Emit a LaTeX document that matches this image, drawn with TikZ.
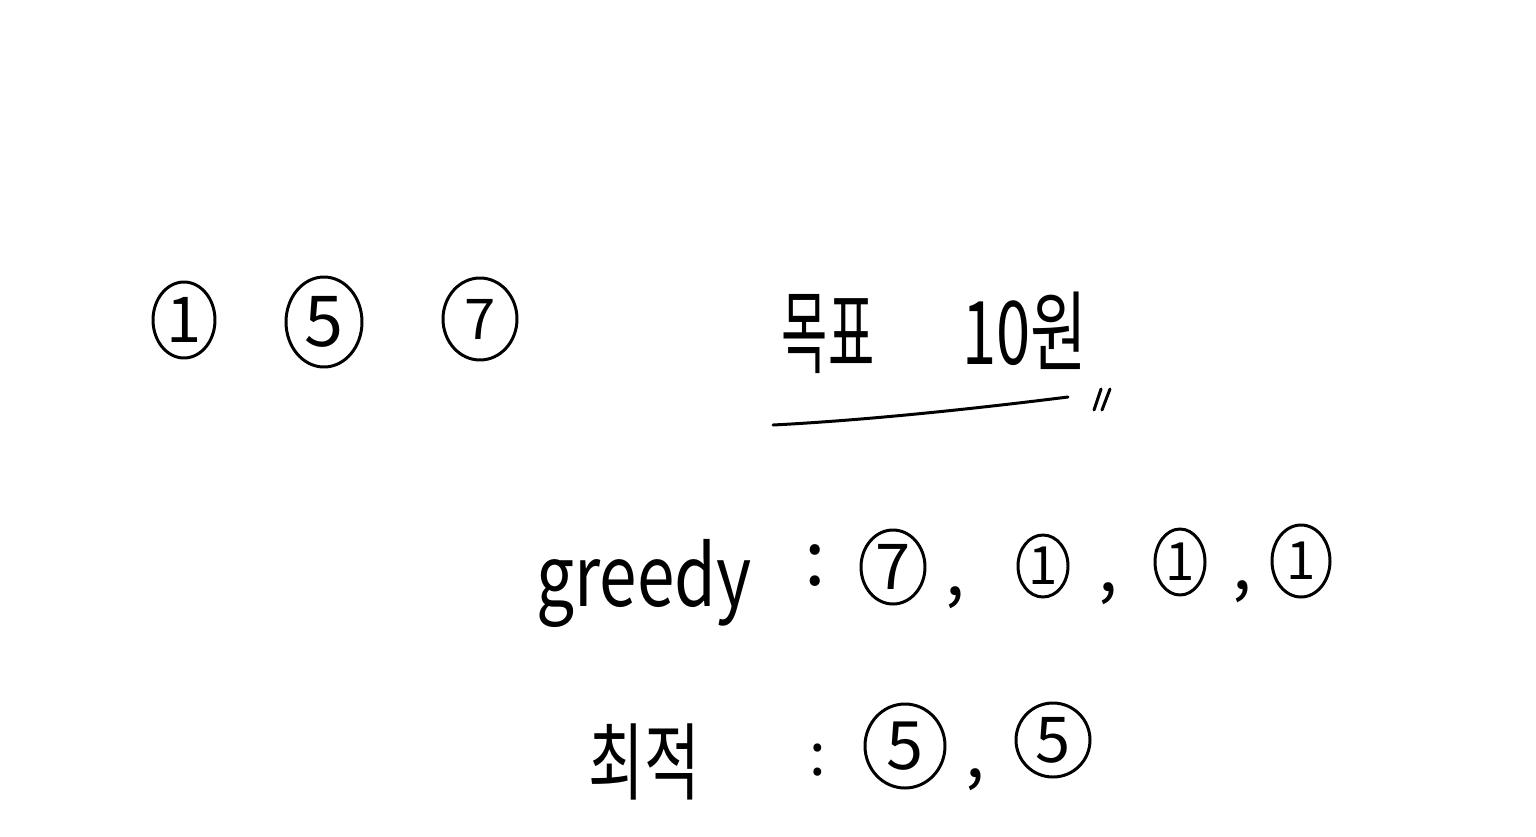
\documentclass[tikz,border=0pt]{standalone}
\usepackage{fontspec}
\setmainfont{Noto Sans CJK KR}
\usetikzlibrary{shapes.geometric}
\newcommand\myfs[1]{\fontsize{#1}{#1}\selectfont}
\tikzset{
  ink/.style={line width=1.7pt, line cap=round, line join=round},
  coin/.style={draw, ellipse, ink, inner sep=0pt},
  csize/.style 2 args={minimum width=#1*0.02cm, minimum height=#2*0.02cm},
  txt/.style={inner sep=0pt},
}
\begin{document}
\begin{tikzpicture}[x=0.02cm, y=-0.02cm]
\useasboundingbox[fill=white] (0,0) rectangle (1536,836);
% top row of coins
\node[coin, csize={62}{76}, font=\myfs{36pt}] (c1) at (184,320) {1};
\node[coin, csize={76}{90}, font=\myfs{40pt}] (c5) at (324,322) {5};
\node[coin, csize={74}{82}, font=\myfs{32pt}] (c7) at (480,319) {7};
% goal
\node[txt, font=\myfs{52pt}] (goal) at (828,334) {\scalebox{0.55}[1]{목표}};
\node[txt, font=\myfs{50pt}] (amount) at (1025,331) {\scalebox{0.7}[1]{10원}};
\coordinate (ulA) at (773,425);
\coordinate (ulB) at (1068,397);
\draw[ink] (ulA) .. controls (870,420) and (980,408) .. (ulB);
\coordinate (q1a) at (1094,410); \coordinate (q1b) at (1101,389);
\coordinate (q2a) at (1102,410); \coordinate (q2b) at (1110,389);
\draw[ink] (q1a) -- (q1b);
\draw[ink] (q2a) -- (q2b);
% greedy row
\node[txt, font=\myfs{48pt}] (greedy) at (644,583) {\scalebox{0.8}[1]{greedy}};
\node[txt, font=\myfs{44pt}] (colA) at (815,566) {:};
\node[coin, csize={64}{74}, font=\myfs{36pt}] (g7) at (893,567) {7};
\node[txt, font=\myfs{40pt}] (k1) at (955,598) {,};
\node[coin, csize={50}{62}, font=\myfs{30pt}] (g1a) at (1043,566) {1};
\node[txt, font=\myfs{40pt}] (k2) at (1108,594) {,};
\node[coin, csize={50}{66}, font=\myfs{30pt}] (g1b) at (1180,562) {1};
\node[txt, font=\myfs{40pt}] (k3) at (1242,592) {,};
\node[coin, csize={58}{72}, font=\myfs{30pt}] (g1c) at (1301,561) {1};
% optimal row
\node[txt, font=\myfs{48pt}] (opt) at (644,762) {\scalebox{0.72}[1]{최적}};
\node[txt, font=\myfs{34pt}] (colB) at (818,760) {:};
\node[coin, csize={80}{84}, font=\myfs{38pt}] (o5a) at (905,746) {5};
\node[txt, font=\myfs{40pt}] (k4) at (975,780) {,};
\node[coin, csize={74}{74}, font=\myfs{36pt}] (o5b) at (1053,740) {5};
\end{tikzpicture}
\end{document}
